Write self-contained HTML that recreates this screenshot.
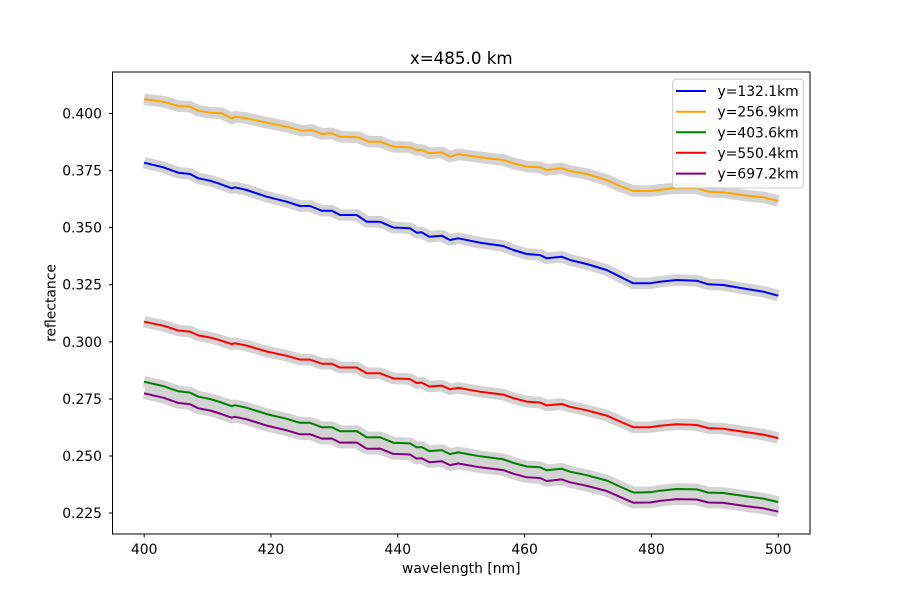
<!DOCTYPE html>
<html><head><meta charset="utf-8"><style>html,body{margin:0;padding:0;background:#fff}svg{display:block}text{font-family:"DejaVu Sans","Liberation Sans",sans-serif;fill:#000}</style></head><body>
<svg width="900" height="600" viewBox="0 0 900 600" xmlns="http://www.w3.org/2000/svg">
<rect width="900" height="600" fill="#fff"/>
<g fill="none" stroke="#d3d3d3" stroke-width="11.5" stroke-linejoin="round" stroke-linecap="butt">
<polyline points="144,162.7 163.3,167.3 178.3,172.7 190,174 198.3,178.3 210,180.7 218.3,183.3 231.7,188.3 235,187.3 246.7,190 266.7,196.7 286.7,201.7 300,206 310,206 321.7,210.7 331.7,210.7 340,215 356.7,215 366.7,221.7 380,221.7 393.3,227.5 410,228.3 416.7,232.7 421.7,232.3 429.3,236.7 441.7,235.7 450,240 458.3,238.3 480,242.7 503.3,246 513.3,250 526.7,254 540,255 546.7,258.3 561.7,256.7 570,260 586.7,264 606.7,270 620,276.7 633.3,283.3 650,283.3 660,281.7 676.7,280 696.7,280.7 708.3,284.3 723.3,285 746.7,289 763.3,291.7 778.3,295.7"/>
<polyline points="144,99.3 163.3,101.7 178.3,106 190,106.7 198.3,110.7 210,112.7 221.7,113.3 231.7,118.3 235,116.7 246.7,118.3 266.7,122.7 286.7,126.7 301.7,130.7 311.7,130 321.7,134 331.7,133.3 340,136.7 358.3,137.3 368.3,141.7 380,141.7 393.3,146.7 410,147.3 416.7,150 421.7,150 429.3,153.3 441.7,152.3 450,156.7 458.3,154.3 480,157.3 503.3,160 513.3,163.3 526.7,166.7 540,167.3 546.7,170 561.7,168.3 570,171 586.7,174 606.7,180 620,186 633.3,191 650,191 673.3,188.3 696.7,188.3 708.3,191.7 723.3,192.3 746.7,195.7 763.3,197.3 778.3,201"/>
<polyline points="144,381.7 163.3,386.1 178.3,391.3 190,392.6 198.3,396.7 210,399 218.3,401.4 231.7,406.2 235,405.2 246.7,407.8 266.7,414.1 286.7,418.8 300,422.8 310,422.8 321.7,427.2 331.7,427.2 340,431.2 356.7,431.1 366.7,437.4 380,437.3 393.3,442.7 410,443.4 416.7,447.4 421.7,447.1 429.3,451.1 441.7,450.1 450,454.1 458.3,452.4 480,456.3 503.3,459.3 513.3,462.9 526.7,466.5 540,467.3 546.7,470.3 561.7,468.7 570,471.7 586.7,475.2 606.7,480.5 620,486.6 633.3,492.5 650,492.3 660,490.7 676.7,489 696.7,489.4 708.3,492.6 723.3,493 746.7,496.4 763.3,498.6 778.3,502.1"/>
<polyline points="144,321.7 163.3,325.7 178.3,330.5 190,331.6 198.3,335.4 210,337.5 218.3,339.7 231.7,344.1 235,343.2 246.7,345.6 266.7,351.5 286.7,355.8 300,359.6 310,359.6 321.7,363.7 331.7,363.7 340,367.5 356.7,367.5 366.7,373.3 380,373.3 393.3,378.4 410,379.1 416.7,383 421.7,382.6 429.3,386.5 441.7,385.6 450,389.3 458.3,387.9 480,391.7 503.3,394.6 513.3,398.1 526.7,401.6 540,402.5 546.7,405.4 561.7,404 570,406.8 586.7,410.3 606.7,415.6 620,421.5 633.3,427.2 650,427.2 660,425.8 676.7,424.3 696.7,425 708.3,428.1 723.3,428.7 746.7,432.2 763.3,434.6 778.3,438.1"/>
<polyline points="144,393.3 163.3,397.7 178.3,402.9 190,404.2 198.3,408.3 210,410.5 218.3,413 231.7,417.7 235,416.8 246.7,419.3 266.7,425.6 286.7,430.3 300,434.3 310,434.2 321.7,438.6 331.7,438.5 340,442.6 356.7,442.5 366.7,448.7 380,448.6 393.3,453.9 410,454.5 416.7,458.6 421.7,458.2 429.3,462.2 441.7,461.2 450,465.1 458.3,463.5 480,467.3 503.3,470.1 513.3,473.7 526.7,477.3 540,478 546.7,481 561.7,479.4 570,482.3 586.7,485.8 606.7,491 620,496.9 633.3,502.7 650,502.5 660,500.9 676.7,499.1 696.7,499.5 708.3,502.5 723.3,502.9 746.7,506.2 763.3,508.3 778.3,511.7"/>
</g>
<g fill="none" stroke-width="2" stroke-linejoin="round" stroke-linecap="butt">
<polyline stroke="#0000ff" points="144,162.7 163.3,167.3 178.3,172.7 190,174 198.3,178.3 210,180.7 218.3,183.3 231.7,188.3 235,187.3 246.7,190 266.7,196.7 286.7,201.7 300,206 310,206 321.7,210.7 331.7,210.7 340,215 356.7,215 366.7,221.7 380,221.7 393.3,227.5 410,228.3 416.7,232.7 421.7,232.3 429.3,236.7 441.7,235.7 450,240 458.3,238.3 480,242.7 503.3,246 513.3,250 526.7,254 540,255 546.7,258.3 561.7,256.7 570,260 586.7,264 606.7,270 620,276.7 633.3,283.3 650,283.3 660,281.7 676.7,280 696.7,280.7 708.3,284.3 723.3,285 746.7,289 763.3,291.7 778.3,295.7"/>
<polyline stroke="#ffa500" points="144,99.3 163.3,101.7 178.3,106 190,106.7 198.3,110.7 210,112.7 221.7,113.3 231.7,118.3 235,116.7 246.7,118.3 266.7,122.7 286.7,126.7 301.7,130.7 311.7,130 321.7,134 331.7,133.3 340,136.7 358.3,137.3 368.3,141.7 380,141.7 393.3,146.7 410,147.3 416.7,150 421.7,150 429.3,153.3 441.7,152.3 450,156.7 458.3,154.3 480,157.3 503.3,160 513.3,163.3 526.7,166.7 540,167.3 546.7,170 561.7,168.3 570,171 586.7,174 606.7,180 620,186 633.3,191 650,191 673.3,188.3 696.7,188.3 708.3,191.7 723.3,192.3 746.7,195.7 763.3,197.3 778.3,201"/>
<polyline stroke="#008000" points="144,381.7 163.3,386.1 178.3,391.3 190,392.6 198.3,396.7 210,399 218.3,401.4 231.7,406.2 235,405.2 246.7,407.8 266.7,414.1 286.7,418.8 300,422.8 310,422.8 321.7,427.2 331.7,427.2 340,431.2 356.7,431.1 366.7,437.4 380,437.3 393.3,442.7 410,443.4 416.7,447.4 421.7,447.1 429.3,451.1 441.7,450.1 450,454.1 458.3,452.4 480,456.3 503.3,459.3 513.3,462.9 526.7,466.5 540,467.3 546.7,470.3 561.7,468.7 570,471.7 586.7,475.2 606.7,480.5 620,486.6 633.3,492.5 650,492.3 660,490.7 676.7,489 696.7,489.4 708.3,492.6 723.3,493 746.7,496.4 763.3,498.6 778.3,502.1"/>
<polyline stroke="#ff0000" points="144,321.7 163.3,325.7 178.3,330.5 190,331.6 198.3,335.4 210,337.5 218.3,339.7 231.7,344.1 235,343.2 246.7,345.6 266.7,351.5 286.7,355.8 300,359.6 310,359.6 321.7,363.7 331.7,363.7 340,367.5 356.7,367.5 366.7,373.3 380,373.3 393.3,378.4 410,379.1 416.7,383 421.7,382.6 429.3,386.5 441.7,385.6 450,389.3 458.3,387.9 480,391.7 503.3,394.6 513.3,398.1 526.7,401.6 540,402.5 546.7,405.4 561.7,404 570,406.8 586.7,410.3 606.7,415.6 620,421.5 633.3,427.2 650,427.2 660,425.8 676.7,424.3 696.7,425 708.3,428.1 723.3,428.7 746.7,432.2 763.3,434.6 778.3,438.1"/>
<polyline stroke="#800080" points="144,393.3 163.3,397.7 178.3,402.9 190,404.2 198.3,408.3 210,410.5 218.3,413 231.7,417.7 235,416.8 246.7,419.3 266.7,425.6 286.7,430.3 300,434.3 310,434.2 321.7,438.6 331.7,438.5 340,442.6 356.7,442.5 366.7,448.7 380,448.6 393.3,453.9 410,454.5 416.7,458.6 421.7,458.2 429.3,462.2 441.7,461.2 450,465.1 458.3,463.5 480,467.3 503.3,470.1 513.3,473.7 526.7,477.3 540,478 546.7,481 561.7,479.4 570,482.3 586.7,485.8 606.7,491 620,496.9 633.3,502.7 650,502.5 660,500.9 676.7,499.1 696.7,499.5 708.3,502.5 723.3,502.9 746.7,506.2 763.3,508.3 778.3,511.7"/>
</g>
<rect x="112.5" y="72" width="697.5" height="462" fill="none" stroke="#000" stroke-width="1"/>
<g stroke="#000" stroke-width="1">
<line x1="144.2" y1="534" x2="144.2" y2="537.5"/>
<line x1="271" y1="534" x2="271" y2="537.5"/>
<line x1="397.8" y1="534" x2="397.8" y2="537.5"/>
<line x1="524.6" y1="534" x2="524.6" y2="537.5"/>
<line x1="651.4" y1="534" x2="651.4" y2="537.5"/>
<line x1="778.2" y1="534" x2="778.2" y2="537.5"/>
<line x1="109" y1="513" x2="112.5" y2="513"/>
<line x1="109" y1="456" x2="112.5" y2="456"/>
<line x1="109" y1="399" x2="112.5" y2="399"/>
<line x1="109" y1="341.8" x2="112.5" y2="341.8"/>
<line x1="109" y1="284.7" x2="112.5" y2="284.7"/>
<line x1="109" y1="227.6" x2="112.5" y2="227.6"/>
<line x1="109" y1="170.6" x2="112.5" y2="170.6"/>
<line x1="109" y1="113.5" x2="112.5" y2="113.5"/>
</g>
<g font-size="13.9" text-anchor="middle">
<text x="144.2" y="554">400</text>
<text x="271" y="554">420</text>
<text x="397.8" y="554">440</text>
<text x="524.6" y="554">460</text>
<text x="651.4" y="554">480</text>
<text x="778.2" y="554">500</text>
</g>
<g font-size="13.9" text-anchor="end">
<text x="102" y="518">0.225</text>
<text x="102" y="461">0.250</text>
<text x="102" y="404">0.275</text>
<text x="102" y="346.8">0.300</text>
<text x="102" y="289.7">0.325</text>
<text x="102" y="232.6">0.350</text>
<text x="102" y="175.6">0.375</text>
<text x="102" y="118.5">0.400</text>
</g>
<text x="461.25" y="573" font-size="13.9" text-anchor="middle">wavelength [nm]</text>
<text transform="translate(55.5,303) rotate(-90)" font-size="13.9" text-anchor="middle">reflectance</text>
<text x="461.25" y="64" font-size="16.7" text-anchor="middle">x=485.0 km</text>
<rect x="672.7" y="79.3" width="130.6" height="108.7" rx="3" ry="3" fill="#fff" fill-opacity="0.8" stroke="#cccccc" stroke-width="1"/>
<g stroke-width="2">
<line x1="676" y1="91" x2="706" y2="91" stroke="#0000ff"/>
<line x1="676" y1="111.7" x2="706" y2="111.7" stroke="#ffa500"/>
<line x1="676" y1="132.3" x2="706" y2="132.3" stroke="#008000"/>
<line x1="676" y1="152.8" x2="706" y2="152.8" stroke="#ff0000"/>
<line x1="676" y1="173.6" x2="706" y2="173.6" stroke="#800080"/>
</g>
<g font-size="13.9">
<text x="717.5" y="96">y=132.1km</text>
<text x="717.5" y="116.7">y=256.9km</text>
<text x="717.5" y="137.3">y=403.6km</text>
<text x="717.5" y="157.8">y=550.4km</text>
<text x="717.5" y="178.6">y=697.2km</text>
</g>
</svg>
</body></html>
